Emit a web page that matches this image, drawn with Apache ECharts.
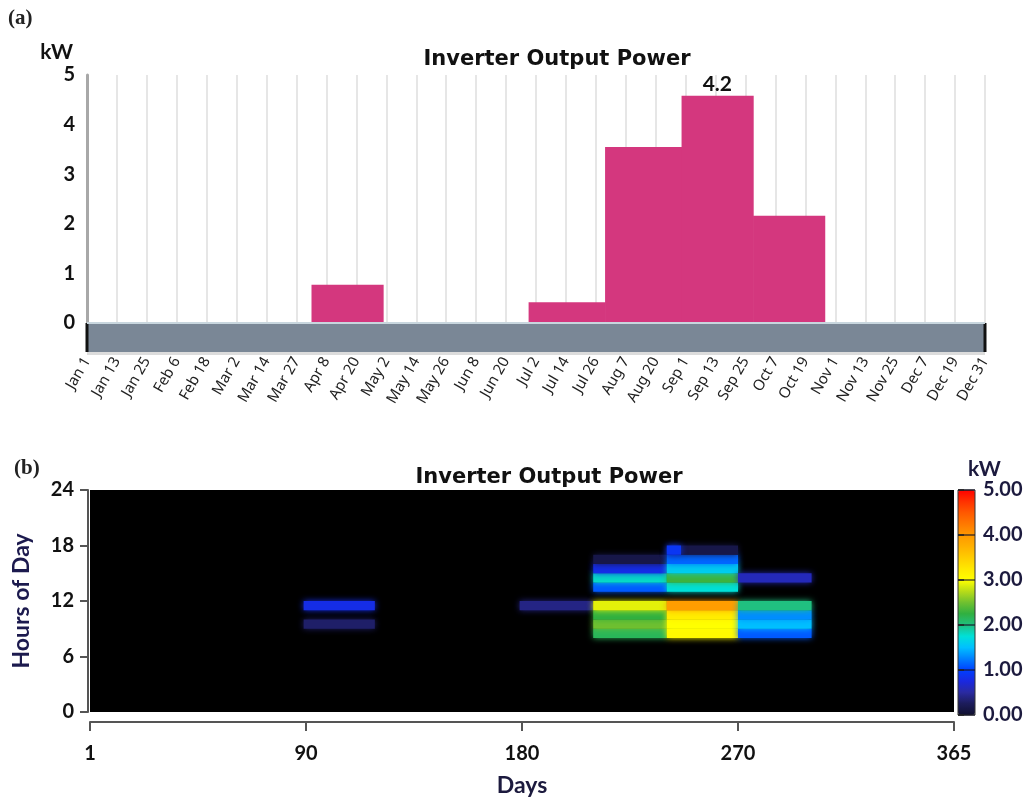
<!DOCTYPE html>
<html><head><meta charset="utf-8">
<script src="https://cdn.jsdelivr.net/npm/echarts@6/dist/echarts.min.js"></script>
<style>html,body{margin:0;padding:0;background:#fff}#c{width:1036px;height:798px}</style>
</head><body><div id="c"></div>
<script>
// ---------- Panel (a): monthly bars ----------
const dateTickLabels = ['Jan 1','Jan 13','Jan 25','Feb 6','Feb 18','Mar 2','Mar 14','Mar 27','Apr 8','Apr 20','May 2','May 14','May 26','Jun 8','Jun 20','Jul 2','Jul 14','Jul 26','Aug 7','Aug 20','Sep 1','Sep 13','Sep 25','Oct 7','Oct 19','Nov 1','Nov 13','Nov 25','Dec 7','Dec 19','Dec 31'];
const barStartDay = [92, 180, 211, 242, 271];
const barEndDay   = [121, 211, 242, 271, 300];
const barPowerKW  = [0.77, 0.42, 3.55, 4.58, 2.16];
const peakLabelText = ['4.2'];

// ---------- Panel (b): day x hour heat map ----------
const dayTickLabels = ['1','90','180','270','365'];
const monthStartDay = [91, 182, 213, 244, 274];
const monthEndDay   = [121, 213, 244, 274, 305];
//                    0 1 2 3 4 5 6 7 8    9    10   11   12 13   14   15   16   17   18 19 20 21 22 23
const aprHourlyKW = [0,0,0,0,0,0,0,0,0,   0.3, 0,   0.8, 0, 0,   0,   0,   0,   0,   0,0,0,0,0,0];
const julHourlyKW = [0,0,0,0,0,0,0,0,0,   0,   0,   0.4, 0, 0,   0,   0,   0,   0,   0,0,0,0,0,0];
const augHourlyKW = [0,0,0,0,0,0,0,0,2.15,2.5, 2.25,2.9, 0, 1.1, 1.8, 0.8, 0.15,0,   0,0,0,0,0,0];
const sepHourlyKW = [0,0,0,0,0,0,0,0,3.05,3.0, 3.2, 3.95,0, 1.75,2.3, 1.6, 1.15,0.15,0,0,0,0,0,0];
const octHourlyKW = [0,0,0,0,0,0,0,0,1.1, 1.5, 1.3, 2.0, 0, 0,   0.6, 0,   0,   0,   0,0,0,0,0,0];
const extraCellStart = [244], extraCellEnd = [250], extraCellHour = [17], extraCellKW = [0.9];
const jetColors = ['#101030','#1c1c5a','#2a2aa0','#1a28e0','#0040ff','#0080ff','#00c0ff','#00e0d8','#20c080','#30b040','#70c030','#b8dc18','#ffff00','#ffe800','#ffcc00','#ffb000','#ff9800','#ff7800','#ff5800','#ff3000','#ff0000'];

const barData = barStartDay.map((s,i)=>[s, barEndDay[i], barPowerKW[i]]);
const peakIdx = barPowerKW.indexOf(Math.max(...barPowerKW));
const peakData = [[(barStartDay[peakIdx]+barEndDay[peakIdx])/2, barPowerKW[peakIdx]]];

const monthHours = [aprHourlyKW, julHourlyKW, augHourlyKW, sepHourlyKW, octHourlyKW];
const heatData = [];
monthHours.forEach((arr,m)=>arr.forEach((v,h)=>{ if(v>0) heatData.push([monthStartDay[m], monthEndDay[m], h, v]); }));
extraCellStart.forEach((s,i)=>heatData.push([s, extraCellEnd[i], extraCellHour[i], extraCellKW[i]]));

const boldNum = {fontFamily:'Lato', fontWeight:'bold', fontSize:20, color:'#111'};
const chart = echarts.init(document.getElementById('c'), null, {renderer:'canvas'});
chart.setOption({
  backgroundColor:'#fff',
  animation:false,
  grid:[
    {left:87, right:51, top:75, bottom:475},
    {left:90, right:82, top:490, bottom:84, show:true, backgroundColor:'#000', borderWidth:0, z:1},
    {left:958, width:17, top:490, height:225, show:true, borderColor:'#333', borderWidth:1, backgroundColor:'transparent', z:10}
  ],
  xAxis:[
    {gridIndex:0, type:'value', min:1, max:365, show:false},
    {gridIndex:0, type:'category', data:dateTickLabels, boundaryGap:false, position:'bottom', offset:14.5,
      axisLine:{lineStyle:{color:'#7a8796', width:29, cap:'butt'}}, axisTick:{show:false},
      axisLabel:{rotate:60, margin:21, interval:0, fontFamily:'Noto Sans', fontSize:15, color:'#222'},
      splitLine:{show:true, lineStyle:{color:'#e6e6e6', width:2}}},
    {gridIndex:1, type:'value', min:1, max:365, show:false},
    {gridIndex:1, type:'category', data:dayTickLabels, boundaryGap:false, position:'bottom', offset:10,
      axisLine:{lineStyle:{color:'#555', width:2}}, axisTick:{length:9, lineStyle:{color:'#555', width:2}},
      axisLabel:Object.assign({margin:22}, boldNum), splitLine:{show:false},
      name:'Days', nameLocation:'middle', nameGap:52, nameTextStyle:{fontFamily:'Lato', fontWeight:'bold', fontSize:23, color:'#1c1a3e'}},
    {gridIndex:2, type:'value', min:0, max:1, show:false}
  ],
  yAxis:[
    {gridIndex:0, type:'value', min:0, max:5, interval:1,
      axisLine:{show:true, lineStyle:{color:'#a8a8a8', width:3}}, axisTick:{show:false}, splitLine:{show:false},
      axisLabel:Object.assign({margin:12}, boldNum),
      name:'kW', nameLocation:'end', nameGap:12, nameTextStyle:{fontFamily:'Lato', fontWeight:'bold', fontSize:21, color:'#111', align:'right', padding:[0,14,0,0]}},
    {gridIndex:1, type:'value', min:0, max:24, interval:6, offset:2,
      axisLine:{show:true, lineStyle:{color:'#555', width:2}}, axisTick:{show:true, length:8, lineStyle:{color:'#555', width:2}},
      splitLine:{show:false}, axisLabel:Object.assign({margin:14}, boldNum),
      name:'Hours of Day', nameLocation:'middle', nameGap:55, nameRotate:90, nameTextStyle:{fontFamily:'Lato', fontWeight:'bold', fontSize:23, color:'#1c1a4e'}},
    {gridIndex:2, type:'value', min:0, max:5, interval:1, position:'right', z:10,
      axisLine:{show:false}, axisTick:{show:true, length:6, lineStyle:{color:'#222', width:1.5}},
      splitLine:{show:true, lineStyle:{color:'rgba(20,20,40,0.75)', width:1.5}},
      axisLabel:Object.assign({margin:8, formatter:v=>v.toFixed(2)}, boldNum, {color:'#1c1a3e'}),
      name:'kW', nameLocation:'end', nameGap:8, nameTextStyle:{fontFamily:'Lato', fontWeight:'bold', fontSize:21, color:'#1c1a3e', align:'left', padding:[0,0,0,10]}}
  ],
  visualMap:{type:'continuous', min:0, max:5, dimension:3, seriesIndex:1, calculable:false, orient:'vertical',
    left:958, top:490, itemWidth:17, itemHeight:225, padding:0, z:1, inRange:{color:jetColors}},
  series:[
    {type:'custom', xAxisIndex:0, yAxisIndex:0, data:barData, encode:{x:[0,1], y:2},
      renderItem:(params, api)=>{
        const p0 = api.coord([api.value(0), api.value(2)]);
        const p1 = api.coord([api.value(1), 0]);
        return {type:'rect', shape:{x:p0[0], y:p0[1], width:p1[0]-p0[0]+0.6, height:p1[1]-p0[1]}, style:{fill:'#d4377e'}};
      }},
    {type:'custom', xAxisIndex:2, yAxisIndex:1, data:heatData, encode:{x:[0,1], y:2}, z:3,
      renderItem:(params, api)=>{
        const p0 = api.coord([api.value(0), api.value(2)+1]);
        const p1 = api.coord([api.value(1), api.value(2)]);
        const c = api.visual('color');
        return {type:'rect', shape:{x:p0[0], y:p0[1], width:p1[0]-p0[0], height:p1[1]-p0[1]}, style:{fill:c, shadowBlur:6, shadowColor:c}};
      }},
    {type:'custom', xAxisIndex:0, yAxisIndex:0, data:peakData, encode:{x:0, y:1}, clip:false, z:5,
      renderItem:(params, api)=>{
        const p = api.coord([api.value(0), api.value(1)]);
        return {type:'text', x:p[0], y:p[1]-1, style:{text:peakLabelText[params.dataIndex], font:'bold 21px Lato', fill:'#111', align:'center', verticalAlign:'bottom'}};
      }}
  ]
});

const xL = chart.convertToPixel({xAxisIndex:0}, 1);
const xR = chart.convertToPixel({xAxisIndex:0}, 365);
const y0 = chart.convertToPixel({yAxisIndex:0}, 0);
chart.setOption({graphic:[
  {type:'rect', shape:{x:xL-1.5, y:y0, width:3, height:29}, style:{fill:'#111'}, z:100},
  {type:'rect', shape:{x:xR-1.5, y:y0, width:3, height:29}, style:{fill:'#111'}, z:100},
  {type:'rect', shape:{x:xL, y:y0-1, width:xR-xL, height:2}, style:{fill:'#c8d6de'}, z:100},
  {type:'rect', shape:{x:xL, y:y0+29, width:xR-xL, height:3}, style:{fill:'#dcdcdc'}, z:100},
  {type:'text', x:8, y:8, style:{text:'(a)', font:'bold 21px "Liberation Serif"', fill:'#222'}},
  {type:'text', x:14, y:458, style:{text:'(b)', font:'bold 21px "Liberation Serif"', fill:'#222'}},
  {type:'text', x:557, y:60, style:{text:'Inverter Output Power', font:'bold 21px "DejaVu Sans"', fill:'#111', align:'center', verticalAlign:'middle'}},
  {type:'text', x:549, y:478, style:{text:'Inverter Output Power', font:'bold 21px "DejaVu Sans"', fill:'#111', align:'center', verticalAlign:'middle'}}
]});
</script></body></html>
